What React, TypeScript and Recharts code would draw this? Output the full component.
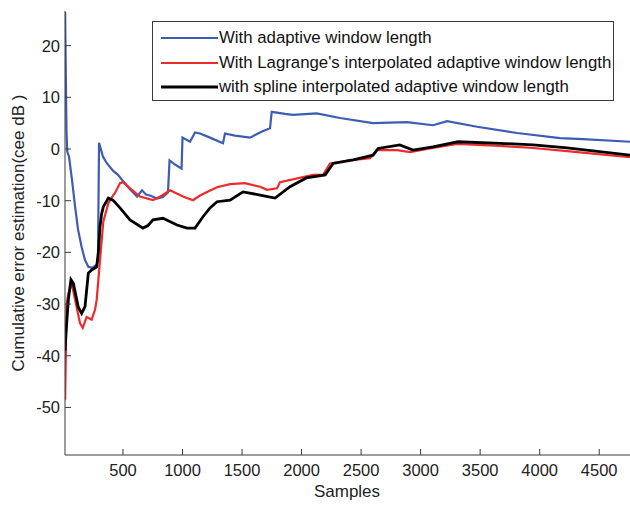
import React from "react";
import { LineChart, Line, XAxis, YAxis, Legend } from "recharts";

const FONT = "'Liberation Sans', Arial, sans-serif";
const AXIS_COLOR = "#3a3a3a";

const xTicks = [500, 1000, 1500, 2000, 2500, 3000, 3500, 4000, 4500];
const yTicks = [-50, -40, -30, -20, -10, 0, 10, 20];

// [sample, cee dB]
const adaptive: [number, number][] = [
  [14, 26.5], [20, 14], [26, 3], [32, -0.5], [47, -1.5], [72, -6], [97, -11],
  [122, -15.5], [153, -19], [181, -21.5], [209, -22.8], [240, -23], [279, -22.4],
  [290, -21.5], [299, 1.2], [332, -1.5], [363, -2.7], [416, -4.2], [458, -5],
  [500, -6.2], [559, -7.8], [618, -9.2], [660, -8], [693, -8.8], [727, -9],
  [786, -9.6], [836, -9.3], [878, -8.4], [891, -2.2], [937, -3], [992, -3.8],
  [1000, 2.2], [1063, 1.4], [1105, 3.2], [1147, 3], [1231, 2.2], [1340, 1.1],
  [1357, 3], [1441, 2.6], [1567, 2.2], [1668, 3.4], [1735, 4], [1749, 7.2],
  [1861, 6.8], [1928, 6.6], [2127, 6.9], [2323, 6], [2600, 5], [2886, 5.2],
  [3104, 4.6], [3222, 5.4], [3474, 4.3], [3810, 3.1], [4171, 2.1], [4364, 1.9],
  [4759, 1.4],
];

const lagrange: [number, number][] = [
  [14, -48.5], [21, -38], [27, -30], [41, -28], [69, -26], [111, -30.6],
  [139, -33.7], [162, -34.6], [195, -32.5], [237, -33], [265, -31.1],
  [279, -29.2], [307, -21.5], [335, -14], [377, -10.5], [419, -8.9], [433, -8.5],
  [475, -6.6], [500, -6.4], [559, -7.6], [643, -9.2], [752, -9.9], [828, -9],
  [895, -8], [1004, -9.2], [1088, -9.9], [1147, -9], [1206, -8.3], [1290, -7.4],
  [1399, -6.8], [1525, -6.6], [1651, -7.3], [1710, -7.9], [1794, -7.6],
  [1819, -6.4], [2096, -5], [2180, -5], [2239, -2.8], [2400, -2.2],
  [2575, -1.8], [2634, -0.2], [2802, -0.2], [2911, -0.6], [3100, 0.2],
  [3306, 1], [3667, 0.6], [3944, 0.2], [4230, -0.4], [4759, -1.6],
];

const spline: [number, number][] = [
  [14, -39], [20, -36], [41, -29.2], [63, -25.3], [83, -26], [125, -30.6],
  [153, -31.8], [181, -30.5], [209, -24], [237, -23.4], [279, -22.8],
  [293, -20], [307, -15], [321, -12.5], [335, -11.2], [377, -9.5], [416, -9.9],
  [475, -11.4], [559, -13.7], [668, -15.3], [710, -14.8], [752, -13.7],
  [836, -13.4], [954, -14.7], [1038, -15.3], [1105, -15.3], [1172, -13.1],
  [1231, -11.4], [1290, -10.2], [1399, -9.9], [1508, -8.3], [1651, -8.9],
  [1777, -9.5], [1903, -7.3], [2040, -5.6], [2198, -5], [2265, -2.8],
  [2433, -2.1], [2601, -1.2], [2643, 0.1], [2825, 0.8], [2936, -0.2],
  [3104, 0.4], [3314, 1.4], [3667, 1.1], [3944, 0.8], [4230, 0.2], [4759, -1.2],
];

const series = [
  { name: "With adaptive window length", color: "#3d5db5", width: 2.2, points: adaptive },
  { name: "With Lagrange's interpolated adaptive window length", color: "#ee2b2b", width: 2.2, points: lagrange },
  { name: "with spline interpolated adaptive window length", color: "#000000", width: 2.8, points: spline },
];

const toRows = (pts: [number, number][]) => pts.map(([s, v]) => ({ s, v }));

const BottomTick = (props: any) => {
  const { x, y, payload } = props;
  return (
    <g>
      <line x1={x} x2={x} y1={y} y2={y - 6} stroke={AXIS_COLOR} />
      <text x={x} y={y + 21} textAnchor="middle" fontSize={16.5} fontFamily={FONT} fill="#222">
        {payload.value}
      </text>
    </g>
  );
};

const TopTick = (props: any) => {
  const { x, y } = props;
  return <line x1={x} x2={x} y1={y} y2={y + 6} stroke={AXIS_COLOR} />;
};

const LeftTick = (props: any) => {
  const { x, y, payload } = props;
  return (
    <g>
      <line x1={x} x2={x + 6} y1={y} y2={y} stroke={AXIS_COLOR} />
      <text x={x - 5} y={y + 6} textAnchor="end" fontSize={16.5} fontFamily={FONT} fill="#222">
        {payload.value}
      </text>
    </g>
  );
};

const RightTick = (props: any) => {
  const { x, y } = props;
  return <line x1={x} x2={x - 6} y1={y} y2={y} stroke={AXIS_COLOR} />;
};

const LegendBox = () => (
  <div
    style={{
      width: 462,
      height: 80,
      boxSizing: "border-box",
      border: `1px solid ${AXIS_COLOR}`,
      background: "#fff",
      fontFamily: FONT,
      fontSize: 16.8,
      color: "#111",
      paddingTop: 4,
    }}
  >
    {series.map((s) => (
      <div key={s.name} style={{ display: "flex", alignItems: "center", height: 24.5, whiteSpace: "nowrap" }}>
        <svg width={66} height={6} style={{ flex: "none" }}>
          <line x1={8} x2={65} y1={3} y2={3} stroke={s.color} strokeWidth={s.width} />
        </svg>
        <span>{s.name}</span>
      </div>
    ))}
  </div>
);

export default function App() {
  return (
    <div style={{ position: "absolute", left: 0, top: 0, width: 630, height: 505, overflow: "hidden", background: "#fff" }}>
      <LineChart width={640} height={505} margin={{ top: 11, right: 9, bottom: 0, left: 0 }}>
        <XAxis
          dataKey="s"
          type="number"
          domain={[13, 4767]}
          ticks={xTicks}
          allowDataOverflow
          height={50}
          tickSize={0}
          tickMargin={0}
          tick={BottomTick}
          axisLine={{ stroke: AXIS_COLOR }}
          label={{
            content: () => (
              <text x={347} y={497} textAnchor="middle" fontSize={17} fontFamily={FONT} fill="#222">
                Samples
              </text>
            ),
          }}
        />
        <XAxis
          xAxisId="top"
          orientation="top"
          dataKey="s"
          type="number"
          domain={[13, 4767]}
          ticks={xTicks}
          allowDataOverflow
          height={0}
          tickSize={0}
          tickMargin={0}
          tick={TopTick}
          axisLine={{ stroke: AXIS_COLOR }}
        />
        <YAxis
          type="number"
          domain={[-59.2, 26.7]}
          ticks={yTicks}
          allowDataOverflow
          width={65}
          tickSize={0}
          tickMargin={0}
          tick={LeftTick}
          axisLine={{ stroke: AXIS_COLOR }}
          label={{
            content: () => (
              <text
                x={24}
                y={233}
                transform="rotate(-90 24 233)"
                textAnchor="middle"
                fontSize={17}
                fontFamily={FONT}
                fill="#222"
              >
                Cumulative error estimation(cee dB )
              </text>
            ),
          }}
        />
        <YAxis
          yAxisId="right"
          orientation="right"
          type="number"
          domain={[-59.2, 26.7]}
          ticks={yTicks}
          allowDataOverflow
          width={0}
          tickSize={0}
          tickMargin={0}
          tick={RightTick}
          axisLine={{ stroke: AXIS_COLOR }}
        />
        <Legend
          layout="horizontal"
          verticalAlign="middle"
          align="center"
          content={LegendBox}
          wrapperStyle={{ left: 152, top: 21, width: 462, height: 80 }}
        />
        {series.map((s) => (
          <Line
            key={s.name}
            data={toRows(s.points)}
            dataKey="v"
            name={s.name}
            type="linear"
            stroke={s.color}
            strokeWidth={s.width}
            dot={false}
            activeDot={false}
            isAnimationActive={false}
          />
        ))}
      </LineChart>
    </div>
  );
}
